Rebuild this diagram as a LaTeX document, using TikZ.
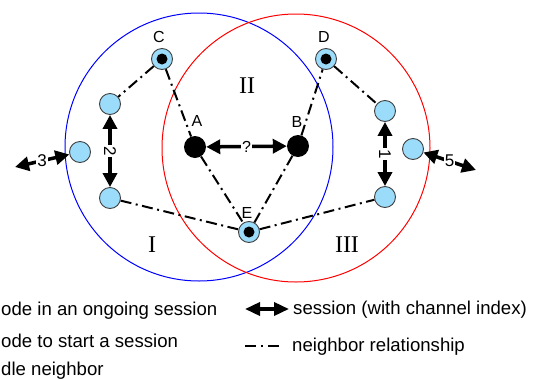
\documentclass[tikz,border=0pt]{standalone}
\usepackage{fontspec}
\setmainfont{Liberation Sans}
\newfontfamily\romanfont{Liberation Serif}
\usetikzlibrary{arrows.meta}
\definecolor{lblue}{RGB}{155,220,250}
\begin{document}
\begin{tikzpicture}[x=1pt,y=-1pt,
  idle/.style={circle, draw=black!75, line width=0.9pt, fill=lblue, minimum size=21pt, inner sep=0pt},
  busy/.style={circle, fill=black, minimum size=22pt, inner sep=0pt},
  starter/.style={circle, draw=black!75, line width=0.9pt, fill=lblue, minimum size=21pt, inner sep=0pt,
    path picture={\fill[black] (path picture bounding box.center) circle (5.5pt);}},
  nbr/.style={line width=2pt, dash pattern=on 11pt off 4.5pt on 2pt off 4.5pt},
  sess/.style={line width=3.5pt, {Triangle[length=14pt,width=14pt]}-{Triangle[length=14pt,width=14pt]}},
  legsess/.style={line width=3.5pt, {Triangle[length=15pt,width=13pt]}-{Triangle[length=15pt,width=13pt]}},
  lbl/.style={font=\fontsize{16}{16}\selectfont, inner sep=0pt},
  num/.style={font=\fontsize{17}{17}\selectfont, fill=white, inner sep=1pt},
  region/.style={font=\romanfont\fontsize{24}{24}\selectfont, inner sep=0pt},
  legtext/.style={font=\fontsize{18.6}{18.6}\selectfont, inner sep=0pt, anchor=base west},
  zone/.style={line width=1pt}
]
\useasboundingbox (0,0) rectangle (536,378);
% zones
\draw[zone, blue] (199,147) circle (134);
\draw[zone, red] (296,148) circle (134);
% region labels
\node[region] (r1) at (152,245) {I};
\node[region] (r2) at (247,86) {II};
\node[region] (r3) at (347,245) {III};
% nodes
\node[starter] (C) at (162,59) {};
\node[starter] (D) at (326,59) {};
\node[starter] (E) at (249,232) {};
\node[busy] (A) at (195,147) {};
\node[busy] (B) at (298,146) {};
\node[idle] (ul) at (110,104) {};
\node[idle] (lf) at (80,152) {};
\node[idle] (ll) at (110,198) {};
\node[idle] (ur) at (385,111) {};
\node[idle] (rt) at (413,149) {};
\node[idle] (lr) at (385,197) {};
% node labels
\node[lbl] (lC) at (159,37) {C};
\node[lbl] (lD) at (324,37) {D};
\node[lbl] (lA) at (197,121) {A};
\node[lbl] (lB) at (297,122) {B};
\node[lbl] (lE) at (247,213) {E};
% neighbor relationships
\draw[nbr] (C) -- (ul);
\draw[nbr] (C) -- (A);
\draw[nbr] (A) -- (E);
\draw[nbr] (ll) -- (E);
\draw[nbr] (E) -- (B);
\draw[nbr] (B) -- (D);
\draw[nbr] (D) -- (ur);
\draw[nbr] (E) -- (lr);
% sessions
\draw[sess] (A) -- node[num, font=\fontsize{16}{16}\selectfont] {?} (B);
\draw[sess] (ul) -- node[num, rotate=-90] {2} (ll);
\draw[sess] (ur) -- node[num, rotate=-90] {1} (lr);
\coordinate (t3) at (15,167);
\coordinate (t5) at (476,170);
\draw[sess] (t3) -- node[num] {3} (lf);
\draw[sess] (rt) -- node[num] {5} (t5);
% legend
\node[legtext] (L1) at (1,315) {ode in an ongoing session};
\node[legtext] (L2) at (1,347) {ode to start a session};
\node[legtext] (L3) at (1,375) {dle neighbor};
\coordinate (la1) at (245,309);
\coordinate (la2) at (289,309);
\draw[legsess] (la1) -- (la2);
\node[legtext] (L4) at (293,314) {session (with channel index)};
\coordinate (lb1) at (245,346);
\coordinate (lb2) at (283,346);
\draw[line width=2pt, dash pattern=on 11pt off 5pt on 2pt off 5pt] (lb1) -- (lb2);
\node[legtext] (L5) at (292,351) {neighbor relationship};
\end{tikzpicture}
\end{document}
